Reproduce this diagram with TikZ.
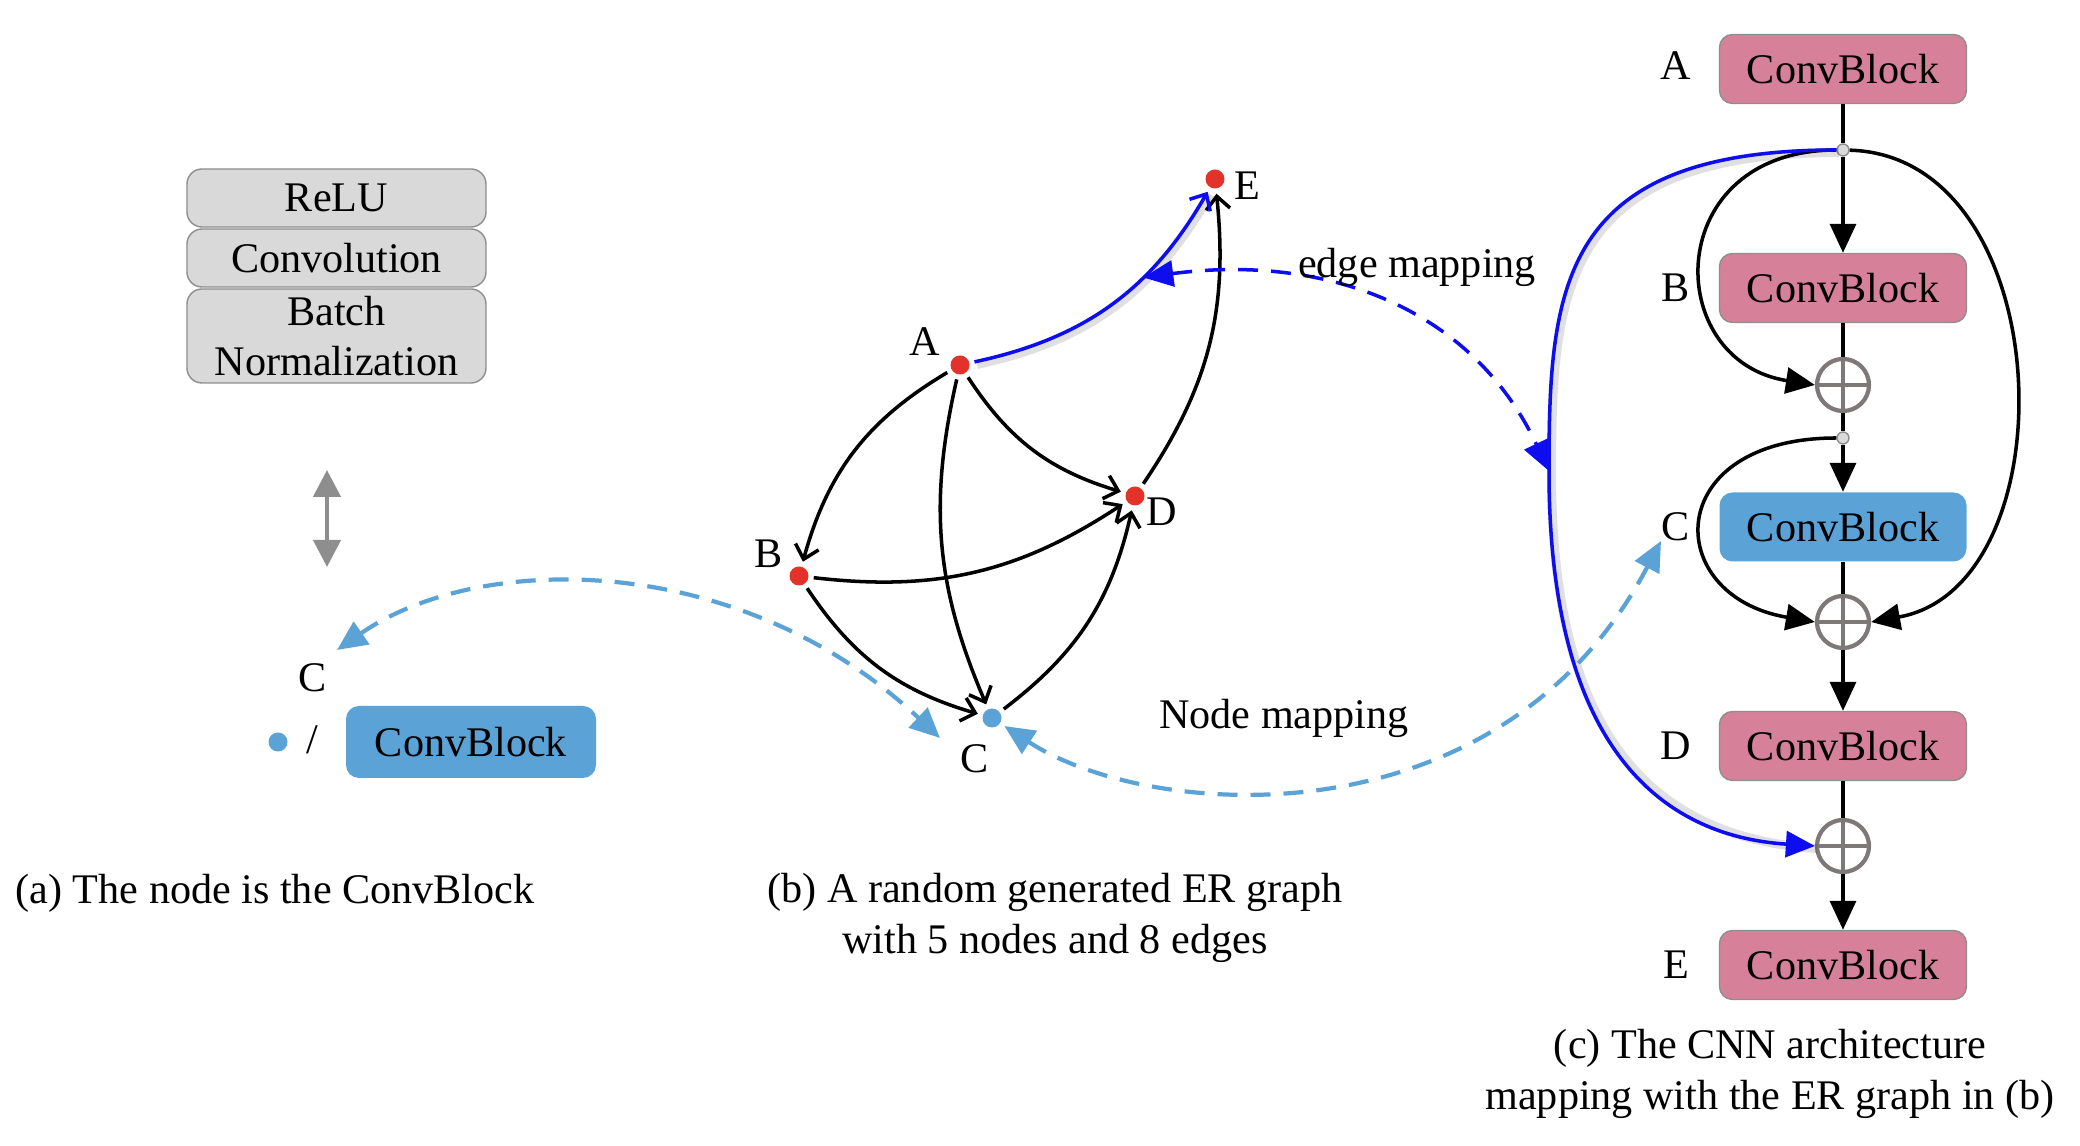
\documentclass[tikz,border=0pt]{standalone}
\usepackage{fontspec}
\setmainfont{Liberation Serif}
\usetikzlibrary{arrows.meta}
\definecolor{blockpink}{HTML}{D68199}
\definecolor{blockblue}{HTML}{5BA3D6}
\definecolor{dotred}{HTML}{E3322A}
\definecolor{mapblue}{HTML}{0D0DF0}
\definecolor{layergray}{HTML}{D9D9D9}
\definecolor{framegray}{HTML}{8E8E8E}
\definecolor{plusgray}{HTML}{7F7878}
\tikzset{
  layerbox/.style={draw=framegray, fill=layergray, rounded corners=0.15cm, minimum width=2.99cm, inner sep=1pt},
  block/.style={draw=framegray, fill=blockpink, rounded corners=0.13cm, minimum width=2.47cm, minimum height=0.69cm},
  blockC/.style={fill=blockblue, rounded corners=0.13cm, minimum width=2.47cm, minimum height=0.69cm},
  vtx/.style={circle, fill=dotred, inner sep=0pt, minimum size=0.19cm, outer sep=1.5pt},
  junc/.style={circle, draw=framegray, fill=layergray, inner sep=0pt, minimum size=0.12cm},
  addop/.style={circle, draw=plusgray, line width=1.2pt, inner sep=0pt, minimum size=0.52cm,
    path picture={\draw[plusgray, line width=1.2pt] (path picture bounding box.north) -- (path picture bounding box.south)
      (path picture bounding box.west) -- (path picture bounding box.east);}},
  glow/.style={preaction={draw=black, opacity=0.12, line width=2.6pt, -, transform canvas={shift={(0.025,-0.025)}}}},
  gedge/.style={line width=1pt, -{Straight Barb[length=0.13cm,width=0.24cm]}},
  flow/.style={line width=1pt, -{Triangle[length=0.29cm,width=0.26cm]}},
  edgemap/.style={mapblue, dash pattern=on 0.2cm off 0.13cm, line width=1pt,
    {Triangle[length=0.3cm,width=0.26cm]}-{Triangle[length=0.3cm,width=0.26cm]}},
  nodemap/.style={blockblue, dash pattern=on 0.2cm off 0.13cm, line width=1.2pt,
    {Triangle[length=0.3cm,width=0.27cm]}-{Triangle[length=0.3cm,width=0.27cm]}}
}
\begin{document}
\begin{tikzpicture}[font=\fontsize{12}{14.4}\selectfont]
  \useasboundingbox (0,0) rectangle (20.8,11.46);

  % (a) one node of the graph
  \node[layerbox, minimum height=0.58cm] (relu) at (3.365,9.48) {ReLU};
  \node[layerbox, minimum height=0.58cm] (conv) at (3.365,8.88) {Convolution};
  \node[layerbox, minimum height=0.94cm, align=center] (bn) at (3.365,8.10) {Batch\\Normalization};
  \coordinate (eqTop) at (3.27,6.76);
  \coordinate (eqBot) at (3.27,5.79);
  \draw[framegray, line width=1.3pt, {Triangle[length=0.27cm,width=0.27cm]}-{Triangle[length=0.27cm,width=0.27cm]}] (eqTop) -- (eqBot);
  \node (labCa) at (3.13,4.68) {C};
  \node[vtx, fill=blockblue] (dotCa) at (2.78,4.04) {};
  \node (slash) at (3.12,4.06) {/};
  \node[blockC, minimum width=2.50cm, minimum height=0.72cm] (blkCa) at (4.71,4.04) {ConvBlock};
  \node (capA) at (2.75,2.53) {(a) The node is the ConvBlock};

  % (b) the ER graph
  \node[vtx] (A) at (9.60,7.81) {};
  \node[vtx] (B) at (7.99,5.70) {};
  \node[vtx, fill=blockblue] (C) at (9.92,4.28) {};
  \node[vtx] (D) at (11.35,6.50) {};
  \node[vtx] (E) at (12.15,9.67) {};
  \node (labA) at (9.25,8.04) {A};
  \node (labB) at (7.69,5.92) {B};
  \node (labC) at (9.75,3.87) {C};
  \node (labD) at (11.62,6.34) {D};
  \node (labE) at (12.47,9.60) {E};
  \draw[gedge] (A) to[bend right=22] (B);
  \draw[gedge] (A) to[bend right=18] (C);
  \draw[gedge] (A) to[bend right=20] (D);
  \draw[gedge] (B) to[bend right=20] (D);
  \draw[gedge] (B) to[bend right=20] (C);
  \draw[gedge] (C) to[bend right=20] (D);
  \draw[gedge] (D) to[bend right=20] (E);
  \draw[gedge, glow, mapblue] (A) to[bend right=24] coordinate[pos=0.65] (aeMid) (E);
  \node (capB) at (10.55,2.28) [align=center] {(b) A random generated ER graph\\with 5 nodes and 8 edges};

  % (c) the CNN built from the graph
  \node[block] (blkA) at (18.43,10.77) {ConvBlock};
  \node[junc] (j1) at (18.43,9.96) {};
  \node[block] (blkB) at (18.43,8.58) {ConvBlock};
  \node[addop] (p1) at (18.43,7.61) {};
  \node[junc] (j2) at (18.43,7.08) {};
  \node[blockC] (blkC) at (18.43,6.19) {ConvBlock};
  \node[addop] (p2) at (18.43,5.24) {};
  \node[block] (blkD) at (18.43,4.00) {ConvBlock};
  \node[addop] (p3) at (18.43,3.00) {};
  \node[block] (blkE) at (18.43,1.81) {ConvBlock};
  \node at (16.76,10.80) (cA) {A};
  \node at (16.76,8.58) (cB) {B};
  \node at (16.76,6.19) (cC) {C};
  \node at (16.76,4.00) (cD) {D};
  \node at (16.76,1.81) (cE) {E};
  \draw[line width=1pt] (blkA) -- (j1);
  \draw[flow] (j1) -- (blkB);
  \draw[line width=1pt] (blkB) -- (p1) -- (j2);
  \draw[flow] (j2) -- (blkC);
  \draw[line width=1pt] (blkC) -- (p2);
  \draw[flow] (p2) -- (blkD);
  \draw[line width=1pt] (blkD) -- (p3);
  \draw[flow] (p3) -- (blkE);
  \draw[flow] (j1) .. controls (16.61,9.96) and (16.61,7.85) .. (p1.west);
  \draw[flow] (j2) .. controls (16.61,7.08) and (16.61,5.5) .. (p2.west);
  \draw[flow] (j1) .. controls (20.6,9.9) and (20.72,5.6) .. (p2.east);
  \coordinate (skipW) at (15.49,6.75);
  \draw[flow, glow, mapblue] (j1) .. controls (15.6,9.96) and (15.49,8.6) .. (skipW)
    .. controls (15.49,4.0) and (16.6,3.1) .. (p3.west);
  \node (capC) at (17.70,0.72) [align=center] {(c) The CNN architecture\\mapping with the ER graph in (b)};

  % mappings
  \draw[edgemap] (aeMid) .. controls (13.2,8.92) and (14.7,8.42) .. (skipW);
  \node (edgeLab) at (14.17,8.79) {edge mapping};
  \node (nodeLab) at (12.84,4.28) {Node mapping};
  \coordinate (nmA) at (3.37,4.96);
  \coordinate (nmB) at (9.40,4.08);
  \coordinate (nmC) at (16.61,6.05);
  \draw[nodemap] (nmA) .. controls (4.8,5.95) and (7.4,5.95) .. (nmB);
  \draw[nodemap] (C) .. controls (11.5,3.25) and (15.0,3.0) .. (nmC);
\end{tikzpicture}
\end{document}
